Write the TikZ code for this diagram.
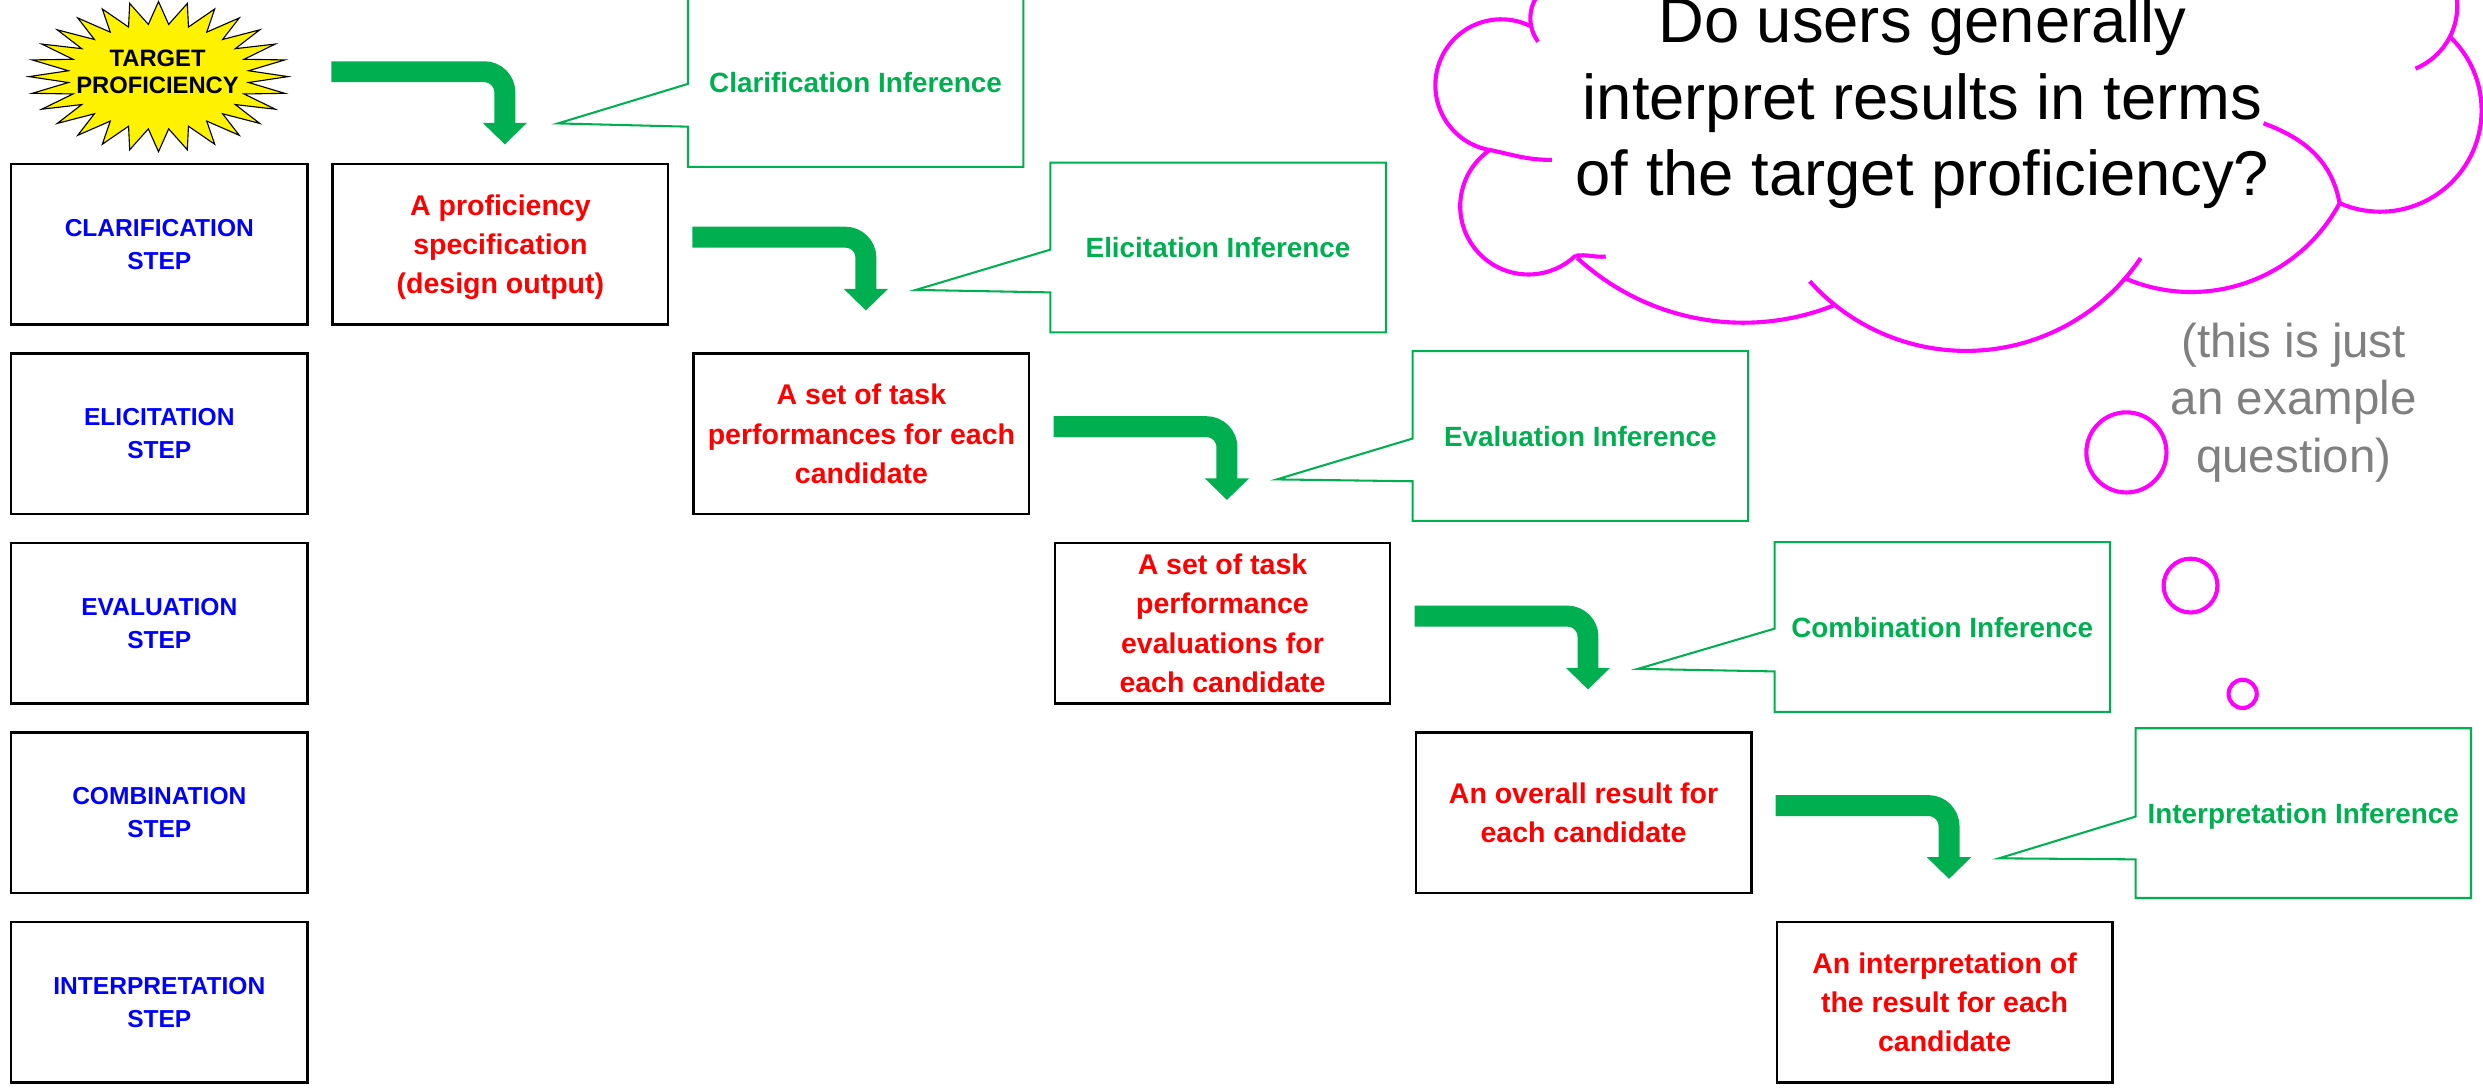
\documentclass[tikz,border=0pt]{standalone}
\usepackage{fontspec}
\setmainfont{Liberation Sans}
\usetikzlibrary{shapes.callouts,arrows.meta,calc}
\definecolor{stepblue}{RGB}{0,0,255}
\definecolor{outred}{RGB}{255,0,0}
\definecolor{infgreen}{RGB}{0,176,80}
\definecolor{cloudpink}{RGB}{255,0,255}
\definecolor{notegray}{RGB}{128,128,128}
\tikzset{
  stepbox/.style={draw, line width=1.6pt, minimum width=187.3pt, minimum height=101.5pt,
    align=center, text=stepblue, font=\fontsize{15.5}{20.8}\selectfont\bfseries},
  outbox/.style={draw, line width=1.6pt, minimum width=211.8pt, minimum height=101.5pt,
    align=center, text=outred, text depth=0pt, font=\fontsize{18}{24.8}\selectfont\bfseries},
  inference/.style={rectangle callout, draw=infgreen, line width=1.3pt,
    minimum width=211.8pt, minimum height=107.2pt, callout pointer width=27pt,
    text=infgreen, text depth=0pt, font=\fontsize{17.6}{21}\selectfont\bfseries},
  flow/.style={draw=infgreen, line width=13.2pt, rounded corners=13pt,
    -{Triangle[width=27.2pt,length=13.7pt]}},
  bubble/.style={draw=cloudpink, line width=2.6pt}
}
\begin{document}
\begin{tikzpicture}[x=1pt, y=1pt]
  \path[use as bounding box] (0,0) rectangle (1568,687);
  \clip (0,0) rectangle (1568,687);

  \draw[fill=yellow, line width=0.7pt] plot[domain=0:55, samples=56, variable=\k]
    ({100.1+81.8*(1-0.3*mod(\k,2))*cos(\k*45/7)}, {638.6+47.4*(1-0.3*mod(\k,2))*sin(\k*45/7)}) -- cycle;
  \node[font=\fontsize{15}{17.5}\selectfont\bfseries, align=center] (target) at (99.5,641.7) {TARGET\\PROFICIENCY};

  \node[stepbox] (clar) at (100.6,532.7) {CLARIFICATION\\STEP};
  \node[stepbox] (elic) at (100.6,413.05) {ELICITATION\\STEP};
  \node[stepbox] (eval) at (100.6,293.4) {EVALUATION\\STEP};
  \node[stepbox] (comb) at (100.6,173.75) {COMBINATION\\STEP};
  \node[stepbox] (interp) at (100.6,54.1) {INTERPRETATION\\STEP};

  \node[outbox] (box1) at (316,532.7) {A proficiency\\specification\\(design output)};
  \node[outbox] (box2) at (544,413.05) {A set of task\\performances for each\\candidate};
  \node[outbox] (box3) at (772,293.4) {A set of task\\performance\\evaluations for\\each candidate};
  \node[outbox] (box4) at (1000,173.75) {An overall result for\\each candidate};
  \node[outbox] (box5) at (1228,54.1) {An interpretation of\\the result for each\\candidate};

  \begin{scope}[flow]
    \draw (target -| box1.west) -| ($(box1.north west)+(109.5,11.5)$);
    \draw ($(box1.east -| box2.west)+(0,4.5)$) -| ($(box2.north west)+(109.5,26.3)$);
    \draw ($(box2.east -| box3.west)+(0,4.5)$) -| ($(box3.north west)+(109.5,26.3)$);
    \draw ($(box3.east -| box4.west)+(0,4.5)$) -| ($(box4.north west)+(109.5,26.3)$);
    \draw ($(box4.east -| box5.west)+(0,4.5)$) -| ($(box5.north west)+(109.5,26.3)$);
  \end{scope}

  \node[inference, callout absolute pointer={($(box1.north west)+(143,24.8)$)}] (clarinf) at (540.3,635.2) {Clarification Inference};
  \node[inference, callout absolute pointer={($(box2.north west)+(141,39.3)$)}] (elicinf) at (769.2,530.7) {Elicitation Inference};
  \node[inference, callout absolute pointer={($(box3.north west)+(141,39.3)$)}] (evalinf) at (998,411.7) {Evaluation Inference};
  \node[inference, callout absolute pointer={($(box4.north west)+(141,39.3)$)}] (combinf) at (1226.5,291) {Combination Inference};
  \node[inference, callout absolute pointer={($(box5.north west)+(141,39.3)$)}] (interpinf) at (1454.5,173.5) {Interpretation Inference};

  \draw[bubble]
    ([shift={(991.3,675.5)}]140:24.9) arc[start angle=140, end angle=216.5, radius=24.9]
    ([shift={(948,633.2)}]62.7:41.6) arc[start angle=62.7, end angle=260, radius=41.6]
    ([shift={(965.2,556.75)}]124.5:43.1) arc[start angle=124.5, end angle=313.6, radius=43.1]
    ([shift={(1100.9,638.2)}]227.4:155) arc[start angle=227.4, end angle=291.9, radius=155]
    ([shift={(1241.6,598.3)}]222:132.9) arc[start angle=222, end angle=326, radius=132.9]
    ([shift={(1383.8,608.8)}]246.8:106.2) arc[start angle=246.8, end angle=331.8, radius=106.2]
    ([shift={(1503.1,617.3)}]246.4:64) arc[start angle=246.4, end angle=406.6, radius=64]
    ([shift={(1509.2,683)}]-67.7:42.5) arc[start angle=-67.7, end angle=40, radius=42.5]
    (940.8,592.3) to[out=-12, in=180] (980,586)
    (994.9,525.5) to[out=8, in=185] (1014,525)
    (1477.4,558.6) to[out=100, in=-20] (1429.4,609.1);
  \draw[bubble] (1342.8,401.3) circle[radius=25.3];
  \draw[bubble] (1383.3,317.2) circle[radius=17];
  \draw[bubble] (1416.2,248.8) circle[radius=8.9];

  \node[font=\fontsize{40}{48.4}\selectfont, align=center] (question) at (1214,622)
    {Do users generally\\interpret results in terms\\of the target proficiency?};
  \node[text=notegray, font=\fontsize{30}{36.3}\selectfont, align=center] (note) at (1448.5,432.8)
    {(this is just\\an example\\question)};
\end{tikzpicture}
\end{document}
